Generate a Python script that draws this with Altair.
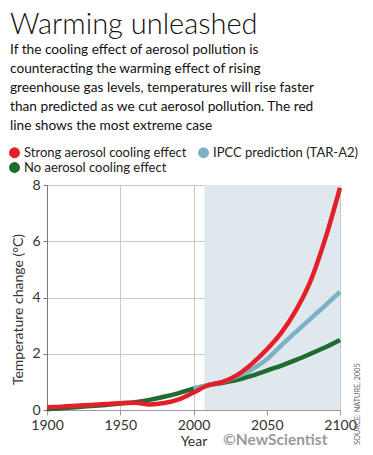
import altair as alt
import pandas as pd

years = [1900, 1910, 1920, 1930, 1940, 1950, 1960, 1970, 1980, 1990, 2000,
         2010, 2020, 2030, 2040, 2050, 2060, 2070, 2080, 2090, 2100]
strong = [0.10, 0.12, 0.15, 0.18, 0.21, 0.24, 0.26, 0.20, 0.25, 0.38, 0.62,
          0.88, 1.00, 1.25, 1.65, 2.15, 2.75, 3.55, 4.60, 6.10, 7.90]
none_ = [0.03, 0.06, 0.10, 0.14, 0.18, 0.23, 0.28, 0.36, 0.47, 0.60, 0.76,
         0.88, 0.97, 1.07, 1.22, 1.40, 1.58, 1.78, 2.00, 2.23, 2.49]
ipcc_years = [2000, 2010, 2020, 2030, 2040, 2050, 2060, 2070, 2080, 2090, 2100]
ipcc = [0.76, 0.88, 1.00, 1.20, 1.45, 1.80, 2.30, 2.78, 3.25, 3.72, 4.20]

series_names = ["Strong aerosol cooling effect", "IPCC prediction (TAR-A2)", "No aerosol cooling effect"]
series_colors = ["#e41f2a", "#7fb1c6", "#1f6b30"]

shade_start, shade_end = 2007.5, 2100

rows = []
for y, v in zip(years, none_):
    rows.append({"year": y, "value": v, "series": series_names[2], "order": 0})
for y, v in zip(ipcc_years, ipcc):
    rows.append({"year": y, "value": v, "series": series_names[1], "order": 1})
for y, v in zip(years, strong):
    rows.append({"year": y, "value": v, "series": series_names[0], "order": 2})
df = pd.DataFrame(rows)

FONT = "Lato"

xscale = alt.Scale(domain=[1900, 2100], nice=False, zero=False)
yscale = alt.Scale(domain=[0, 8], nice=False)
cscale = alt.Scale(domain=series_names, range=series_colors)

legend = alt.Legend(orient="none", legendX=-39, legendY=-39, columns=2,
                    direction="horizontal", title=None, symbolType="circle",
                    symbolSize=120, labelFontSize=13, labelLimit=0,
                    labelFont=FONT, labelColor="#222", columnPadding=10,
                    rowPadding=1, labelOffset=3, symbolStrokeWidth=0,
                    symbolOpacity=1)

shade = alt.Chart(pd.DataFrame({"x": [shade_start], "x2": [shade_end], "y": [0], "y2": [8]})).mark_rect(
    color="#dfe8ec"
).encode(
    x=alt.X("x:Q", scale=xscale),
    x2="x2",
    y=alt.Y("y:Q", scale=yscale),
    y2="y2",
)

xaxis = alt.Axis(values=[1900, 1950, 2000, 2050, 2100], format="d", title="Year",
                 grid=True, gridColor="#c9c9c9", domainColor="#999", tickColor="#999",
                 labelFontSize=14, titleFontSize=14, labelColor="#333", titleColor="#333",
                 labelFont=FONT, titleFont=FONT, titleFontWeight="normal", labelFlush=False,
                 labelPadding=3, titlePadding=2, tickSize=5)
yaxis = alt.Axis(values=[0, 1, 2, 3, 4, 5, 6, 7, 8],
                 labelExpr="datum.value % 2 == 0 ? datum.label : ''",
                 title="Temperature change (°C)", titleY=124,
                 grid=True, gridColor="#c9c9c9", domainColor="#777", tickColor="#777",
                 labelFontSize=14, titleFontSize=14, labelColor="#333", titleColor="#333",
                 labelFont=FONT, titleFont=FONT, titleFontWeight="normal", labelFlush=False,
                 labelPadding=3, titlePadding=6, tickSize=4)

# invisible points (opacity 0) placed first so the shared colour legend uses filled circles
legend_layer = alt.Chart(df).mark_point(filled=True, opacity=0).encode(
    x=alt.X("year:Q", scale=xscale, axis=xaxis),
    y=alt.Y("value:Q", scale=yscale, axis=yaxis),
    color=alt.Color("series:N", scale=cscale, legend=legend),
)

lines = alt.Chart(df).mark_line(strokeWidth=4.5, interpolate="monotone").encode(
    x=alt.X("year:Q", scale=xscale, axis=xaxis),
    y=alt.Y("value:Q", scale=yscale, axis=yaxis),
    color=alt.Color("series:N", scale=cscale, legend=legend),
    order="order:Q",
    detail="series:N",
)

one = pd.DataFrame({"a": [0]})
credit = alt.Chart(one).mark_text(
    text="©NewScientist", font=FONT, fontSize=15.5, fontWeight="bold", color="#9a9a9a", align="left",
    baseline="alphabetic"
).encode(x=alt.value(176), y=alt.value(260))
source = alt.Chart(one).mark_text(
    text="SOURCE: NATURE, 2005", font=FONT, fontSize=7.3, color="#666", angle=270, align="center", baseline="middle"
).encode(x=alt.value(311), y=alt.value(219))

chart = alt.layer(shade, legend_layer, lines, credit, source).properties(
    width=293,
    height=225,
    autosize=alt.AutoSizeParams(type="none"),
    padding={"left": 39, "top": 177, "right": 25, "bottom": 37},
    title=alt.TitleParams(
        text="Warming unleashed",
        subtitle=["If the cooling effect of aerosol pollution is",
                  "counteracting the warming effect of rising",
                  "greenhouse gas levels, temperatures will rise faster",
                  "than predicted as we cut aerosol pollution. The red",
                  "line shows the most extreme case"],
        anchor="start", frame="group", dx=-37, offset=13,
        font=FONT, fontSize=29, fontWeight=300, color="#111",
        subtitleFont=FONT, subtitleFontSize=13.7, subtitleLineHeight=19, subtitleColor="#111",
        subtitlePadding=3,
    ),
).configure_view(stroke=None)

chart.save("out.html", embed_options={"renderer": "svg", "actions": False})
